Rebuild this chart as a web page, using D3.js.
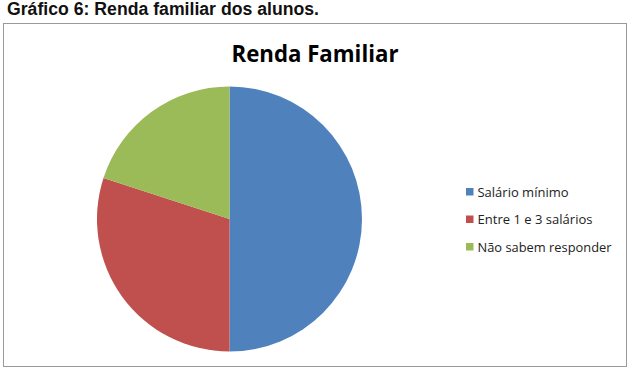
<!DOCTYPE html>
<html>
<head>
<meta charset="utf-8">
<script src="https://cdn.jsdelivr.net/npm/d3@7"></script>
<style>
  body { margin: 0; background: #fff; }
</style>
</head>
<body>
<div id="chart"></div>
<script>
var categories = ["Salário mínimo", "Entre 1 e 3 salários", "Não sabem responder"];
var values = [50, 30, 20];
var colors = ["#4F81BD", "#C0504D", "#9BBB59"];

var width = 632, height = 370;

var svg = d3.select("#chart").append("svg")
    .attr("width", width)
    .attr("height", height);

// caption above the chart
svg.append("text")
    .attr("x", 7)
    .attr("y", 14.5)
    .attr("textLength", 312)
    .attr("lengthAdjust", "spacingAndGlyphs")
    .style("font-family", "Liberation Sans, Arial, sans-serif")
    .style("font-weight", "bold")
    .style("font-size", "17.5px")
    .style("fill", "#111")
    .text("Gráfico 6: Renda familiar dos alunos.");

// chart frame
svg.append("rect")
    .attr("x", 3.5)
    .attr("y", 23.5)
    .attr("width", 623)
    .attr("height", 343)
    .style("fill", "#fff")
    .style("stroke", "#9a9a9a")
    .style("stroke-width", 1);

svg.append("text")
    .attr("x", 315)
    .attr("y", 62)
    .attr("text-anchor", "middle")
    .attr("textLength", 167)
    .attr("lengthAdjust", "spacingAndGlyphs")
    .style("font-family", "Open Sans, sans-serif")
    .style("font-weight", "bold")
    .style("font-size", "23px")
    .style("fill", "#000")
    .text("Renda Familiar");

var data = categories.map(function(c, i) { return {name: c, value: values[i], color: colors[i]}; });

var pie = d3.pie().sort(null).value(d => d.value);
var arc = d3.arc().innerRadius(0).outerRadius(132.5);

var g = svg.append("g")
    .attr("transform", "translate(229.5,219)");

g.selectAll(".slice")
    .data(pie(data))
    .enter().append("path")
    .attr("class", "slice")
    .attr("d", arc)
    .style("fill", d => d.data.color);

var legendWidths = [91, 115, 134];

var legend = svg.selectAll(".legend")
    .data(data)
    .enter().append("g")
    .attr("class", "legend")
    .attr("transform", (d, i) => "translate(466," + (188 + i * 27.5) + ")");

legend.append("rect")
    .attr("width", 7.5)
    .attr("height", 7.5)
    .style("fill", d => d.color);

legend.append("text")
    .attr("x", 11.5)
    .attr("y", 8.5)
    .attr("textLength", (d, i) => legendWidths[i])
    .attr("lengthAdjust", "spacingAndGlyphs")
    .style("font-family", "Open Sans, sans-serif")
    .style("font-size", "12.5px")
    .style("fill", "#222")
    .text(d => d.name);
</script>
</body>
</html>
